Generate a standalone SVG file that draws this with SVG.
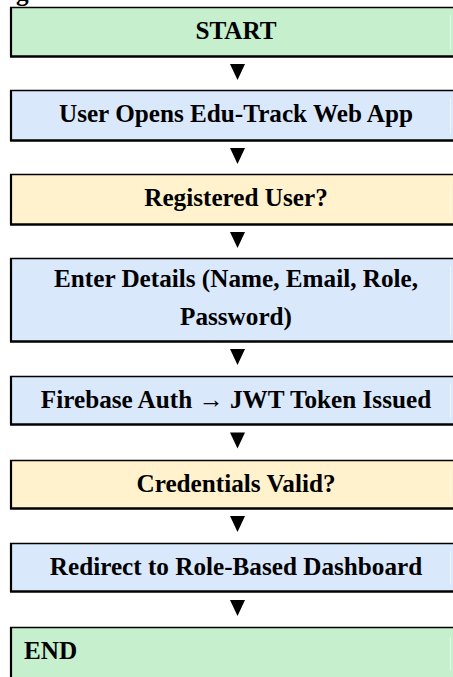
<svg xmlns="http://www.w3.org/2000/svg" width="453" height="677" viewBox="0 0 453 677">
<style>
.bg{fill:#ffffff}
.green{fill:#c6efce}
.blue{fill:#dae8fc}
.yellow{fill:#fff2cc}
.bt{stroke:#000;stroke-width:1.3}
.bl{stroke:#000;stroke-width:2.2}
.bb{stroke:#000;stroke-width:2.5}
.gl{fill:#ffffff;opacity:0.55}
.t{font-family:"Liberation Serif","Times New Roman",serif;font-weight:bold;font-size:25.2px;fill:#000}
.c{text-anchor:middle}
.arr{fill:#000}
</style>
<rect class="bg" x="0" y="0" width="453" height="677"/>
<text class="t" x="16" y="0.5">g</text>
<g id="connectors">
<polygon class="arr" points="230,64 245,64 237.5,80"/>
<polygon class="arr" points="230,148 245,148 237.5,164"/>
<polygon class="arr" points="230,232 245,232 237.5,248"/>
<polygon class="arr" points="230,349 245,349 237.5,365"/>
<polygon class="arr" points="230,432.5 245,432.5 237.5,448.5"/>
<polygon class="arr" points="230,516 245,516 237.5,532"/>
<polygon class="arr" points="230,600 245,600 237.5,616"/>
</g>
<g id="start">
<rect class="green" x="11" y="7" width="450" height="50"/>
<rect class="gl" x="450" y="15" width="1" height="35"/>
<line class="bt" x1="10" y1="7.5" x2="453" y2="7.5"/>
<line class="bl" x1="11" y1="7" x2="11" y2="57"/>
<line class="bb" x1="10" y1="56.5" x2="453" y2="56.5"/>
<text class="t c" x="236" y="38.5">START</text>
</g>
<g id="open">
<rect class="blue" x="11" y="90" width="450" height="51"/>
<rect class="gl" x="450" y="98" width="1" height="36"/>
<line class="bt" x1="10" y1="90.5" x2="453" y2="90.5"/>
<line class="bl" x1="11" y1="90" x2="11" y2="141"/>
<line class="bb" x1="10" y1="140.5" x2="453" y2="140.5"/>
<text class="t c" x="236" y="121.7">User Opens Edu-Track Web App</text>
</g>
<g id="registered">
<rect class="yellow" x="11" y="174" width="450" height="51"/>
<rect class="gl" x="450" y="182" width="1" height="36"/>
<line class="bt" x1="10" y1="174.5" x2="453" y2="174.5"/>
<line class="bl" x1="11" y1="174" x2="11" y2="225"/>
<line class="bb" x1="10" y1="224.5" x2="453" y2="224.5"/>
<text class="t c" x="236" y="206">Registered User?</text>
</g>
<g id="details">
<rect class="blue" x="11" y="258" width="450" height="84"/>
<rect class="gl" x="450" y="266" width="1" height="69"/>
<line class="bt" x1="10" y1="258.5" x2="453" y2="258.5"/>
<line class="bl" x1="11" y1="258" x2="11" y2="342"/>
<line class="bb" x1="10" y1="341.5" x2="453" y2="341.5"/>
<text class="t c" x="236" y="287">Enter Details (Name, Email, Role,</text>
<text class="t c" x="236" y="325">Password)</text>
</g>
<g id="auth">
<rect class="blue" x="11" y="376" width="450" height="49"/>
<rect class="gl" x="450" y="384" width="1" height="34"/>
<line class="bt" x1="10" y1="376.5" x2="453" y2="376.5"/>
<line class="bl" x1="11" y1="376" x2="11" y2="425"/>
<line class="bb" x1="10" y1="424.5" x2="453" y2="424.5"/>
<text class="t c" x="236" y="407.5">Firebase Auth → JWT Token Issued</text>
</g>
<g id="valid">
<rect class="yellow" x="11" y="460" width="450" height="49"/>
<rect class="gl" x="450" y="468" width="1" height="34"/>
<line class="bt" x1="10" y1="460.5" x2="453" y2="460.5"/>
<line class="bl" x1="11" y1="460" x2="11" y2="509"/>
<line class="bb" x1="10" y1="508.5" x2="453" y2="508.5"/>
<text class="t c" x="236" y="491.5">Credentials Valid?</text>
</g>
<g id="redirect">
<rect class="blue" x="11" y="543" width="450" height="49"/>
<rect class="gl" x="450" y="551" width="1" height="34"/>
<line class="bt" x1="10" y1="543.5" x2="453" y2="543.5"/>
<line class="bl" x1="11" y1="543" x2="11" y2="592"/>
<line class="bb" x1="10" y1="591.5" x2="453" y2="591.5"/>
<text class="t c" x="236" y="574.5">Redirect to Role-Based Dashboard</text>
</g>
<g id="end">
<rect class="green" x="11" y="627" width="450" height="50"/>
<rect class="gl" x="450" y="637" width="1" height="33"/>
<line class="bt" x1="10" y1="627.5" x2="453" y2="627.5"/>
<line class="bl" x1="11" y1="627" x2="11" y2="677"/>
<text class="t" x="24" y="659">END</text>
</g>
</svg>
